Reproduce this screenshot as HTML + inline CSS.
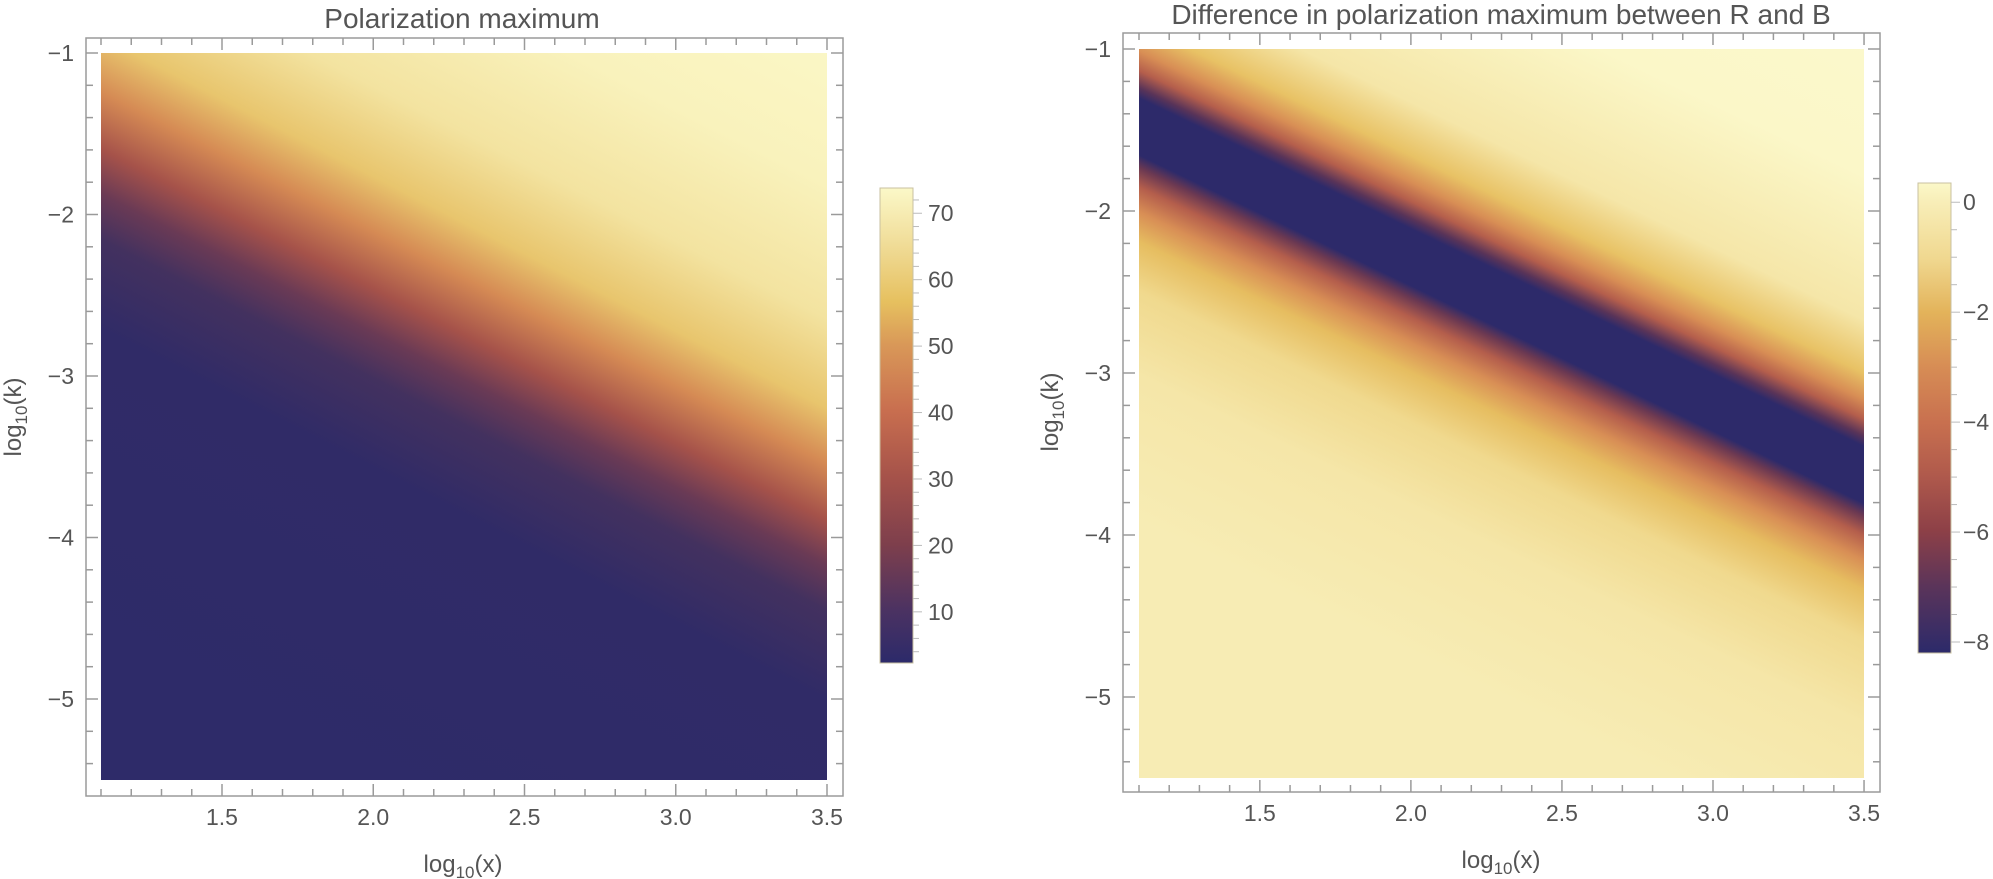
<!DOCTYPE html>
<html><head><meta charset="utf-8">
<style>
html,body{margin:0;padding:0;background:#fff;}
svg{display:block;}
text{font-family:"Liberation Sans",sans-serif;fill:#555;}
</style></head>
<body>
<svg id="s" width="1993" height="879" viewBox="0 0 1993 879" xmlns="http://www.w3.org/2000/svg">
<defs>
<linearGradient id="gL" gradientUnits="userSpaceOnUse" x1="669" y1="-66" x2="259" y2="736">
<stop offset="0" stop-color="#fbf8c8"/>
<stop offset="0.167" stop-color="#f9f2bc"/>
<stop offset="0.3" stop-color="#f3e3a0"/>
<stop offset="0.389" stop-color="#e8c56d"/>
<stop offset="0.444" stop-color="#d58a54"/>
<stop offset="0.5" stop-color="#a5524a"/>
<stop offset="0.544" stop-color="#6a3a55"/>
<stop offset="0.589" stop-color="#43315f"/>
<stop offset="0.678" stop-color="#302b67"/>
<stop offset="1" stop-color="#2e2b69"/>
</linearGradient>
<linearGradient id="gR" gradientUnits="userSpaceOnUse" x1="1673" y1="-60" x2="1327" y2="660">
<stop offset="0" stop-color="#fbf8cc"/>
<stop offset="0.162" stop-color="#fbf7c8"/>
<stop offset="0.325" stop-color="#f5e6a8"/>
<stop offset="0.385" stop-color="#e8c265"/>
<stop offset="0.415" stop-color="#d88e55"/>
<stop offset="0.437" stop-color="#b45e4c"/>
<stop offset="0.456" stop-color="#5a3458"/>
<stop offset="0.468" stop-color="#2d2a6a"/>
<stop offset="0.532" stop-color="#2d2a6a"/>
<stop offset="0.546" stop-color="#6a3852"/>
<stop offset="0.568" stop-color="#b45e4c"/>
<stop offset="0.596" stop-color="#d88e55"/>
<stop offset="0.63" stop-color="#e6bd60"/>
<stop offset="0.686" stop-color="#f0d98e"/>
<stop offset="0.782" stop-color="#f5e6a8"/>
<stop offset="0.95" stop-color="#f7ecb4"/>
<stop offset="1" stop-color="#f7ecb4"/>
</linearGradient>
<linearGradient id="cL" x1="0" y1="0" x2="0" y2="1">
<stop offset="0" stop-color="#fbf8c8"/>
<stop offset="0.12" stop-color="#f0dc97"/>
<stop offset="0.24" stop-color="#e6c05f"/>
<stop offset="0.33" stop-color="#d99858"/>
<stop offset="0.47" stop-color="#c86e4f"/>
<stop offset="0.61" stop-color="#a5524a"/>
<stop offset="0.75" stop-color="#7e3f4c"/>
<stop offset="0.89" stop-color="#4b3262"/>
<stop offset="1" stop-color="#2c2a6a"/>
</linearGradient>
<linearGradient id="cR" x1="0" y1="0" x2="0" y2="1">
<stop offset="0" stop-color="#fbf8c8"/>
<stop offset="0.04" stop-color="#f8eeb8"/>
<stop offset="0.16" stop-color="#f0d890"/>
<stop offset="0.275" stop-color="#e3b35a"/>
<stop offset="0.39" stop-color="#d78d55"/>
<stop offset="0.51" stop-color="#c8704f"/>
<stop offset="0.62" stop-color="#b05a4c"/>
<stop offset="0.74" stop-color="#8d4047"/>
<stop offset="0.86" stop-color="#5a345a"/>
<stop offset="1" stop-color="#2c2a6a"/>
</linearGradient>
</defs>

<rect x="101" y="53" width="726" height="727" fill="url(#gL)"/>
<rect x="1139" y="49" width="725" height="729" fill="url(#gR)"/>

<rect x="880" y="188" width="33" height="475" fill="url(#cL)" stroke="#c8c0a0" stroke-width="1"/>
<rect x="1918" y="183" width="33" height="470" fill="url(#cR)" stroke="#c8c0a0" stroke-width="1"/>

<text x="462" y="28" font-size="28" text-anchor="middle">Polarization maximum</text>
<text x="1501" y="24" font-size="28" text-anchor="middle">Difference in polarization maximum between R and B</text>

<text x="463" y="872" font-size="24" text-anchor="middle">log<tspan font-size="17" dy="6">10</tspan><tspan dy="-6">(x)</tspan></text>
<text x="1501" y="868" font-size="24" text-anchor="middle">log<tspan font-size="17" dy="6">10</tspan><tspan dy="-6">(x)</tspan></text>
<text transform="translate(21,417) rotate(-90)" font-size="24" text-anchor="middle">log<tspan font-size="17" dy="6">10</tspan><tspan dy="-6">(k)</tspan></text>
<text transform="translate(1058,412) rotate(-90)" font-size="24" text-anchor="middle">log<tspan font-size="17" dy="6">10</tspan><tspan dy="-6">(k)</tspan></text>
<g id="g"></g>
</svg>
<script>
(function(){
var g=document.getElementById('g'),h='';
function ln(x1,y1,x2,y2,c,w){h+='<line x1="'+x1+'" y1="'+y1+'" x2="'+x2+'" y2="'+y2+'" stroke="'+(c||'#9a9a9a')+'" stroke-width="'+(w||1.5)+'"/>';}
function tx(x,y,s,a){h+='<text x="'+x+'" y="'+y+'" font-size="23" text-anchor="'+a+'">'+s+'</text>';}
function plot(P){
 h+='<rect x="'+P.x0+'" y="'+P.y0+'" width="'+(P.x1-P.x0)+'" height="'+(P.y1-P.y0)+'" fill="none" stroke="#9a9a9a" stroke-width="1.5"/>';
 for(var i=0;i<=24;i++){
  var v=1.1+i*0.1, x=P.dx+(v-1.1)*P.sx, maj=(i%5==4);
  var L=maj?12:7;
  ln(x,P.y1,x,P.y1-L); ln(x,P.y0,x,P.y0+L);
  if(maj) tx(x,P.y1+29,v.toFixed(1),'middle');
 }
 for(var j=0;j<=22;j++){
  var k=-1-j*0.2, y=P.dy+(-1-k)*P.sy, maj=(j%5==0);
  var L=maj?12:7;
  ln(P.x0,y,P.x0+L,y); ln(P.x1,y,P.x1-L,y);
  if(maj) tx(P.x0-12,y+8,'\u2212'+Math.round(-k),'end');
 }
}
plot({x0:86,x1:843,y0:38,y1:796,dx:101,sx:302.5,dy:53,sy:161.5});
plot({x0:1123,x1:1880,y0:33,y1:792,dx:1139,sx:302.1,dy:49,sy:162});
for(var v=4;v<=72;v+=2){var y=663-(v-2.3)*475/71.5;var maj=(v%10==0);ln(913,y,maj?922:919,y,'#bbb',1);if(maj)tx(928,y+8,v,'start');}
for(var v=-8;v<=0.01;v+=0.5){var y=183+(0.35-v)*470/8.55;var maj=(Math.abs(v%2)<0.01);ln(1951,y,maj?1960:1957,y,'#bbb',1);if(maj)tx(1963,y+8,(v<0?'\u2212':'')+Math.abs(v),'start');}
g.innerHTML=h;
})();
</script>
</body></html>
